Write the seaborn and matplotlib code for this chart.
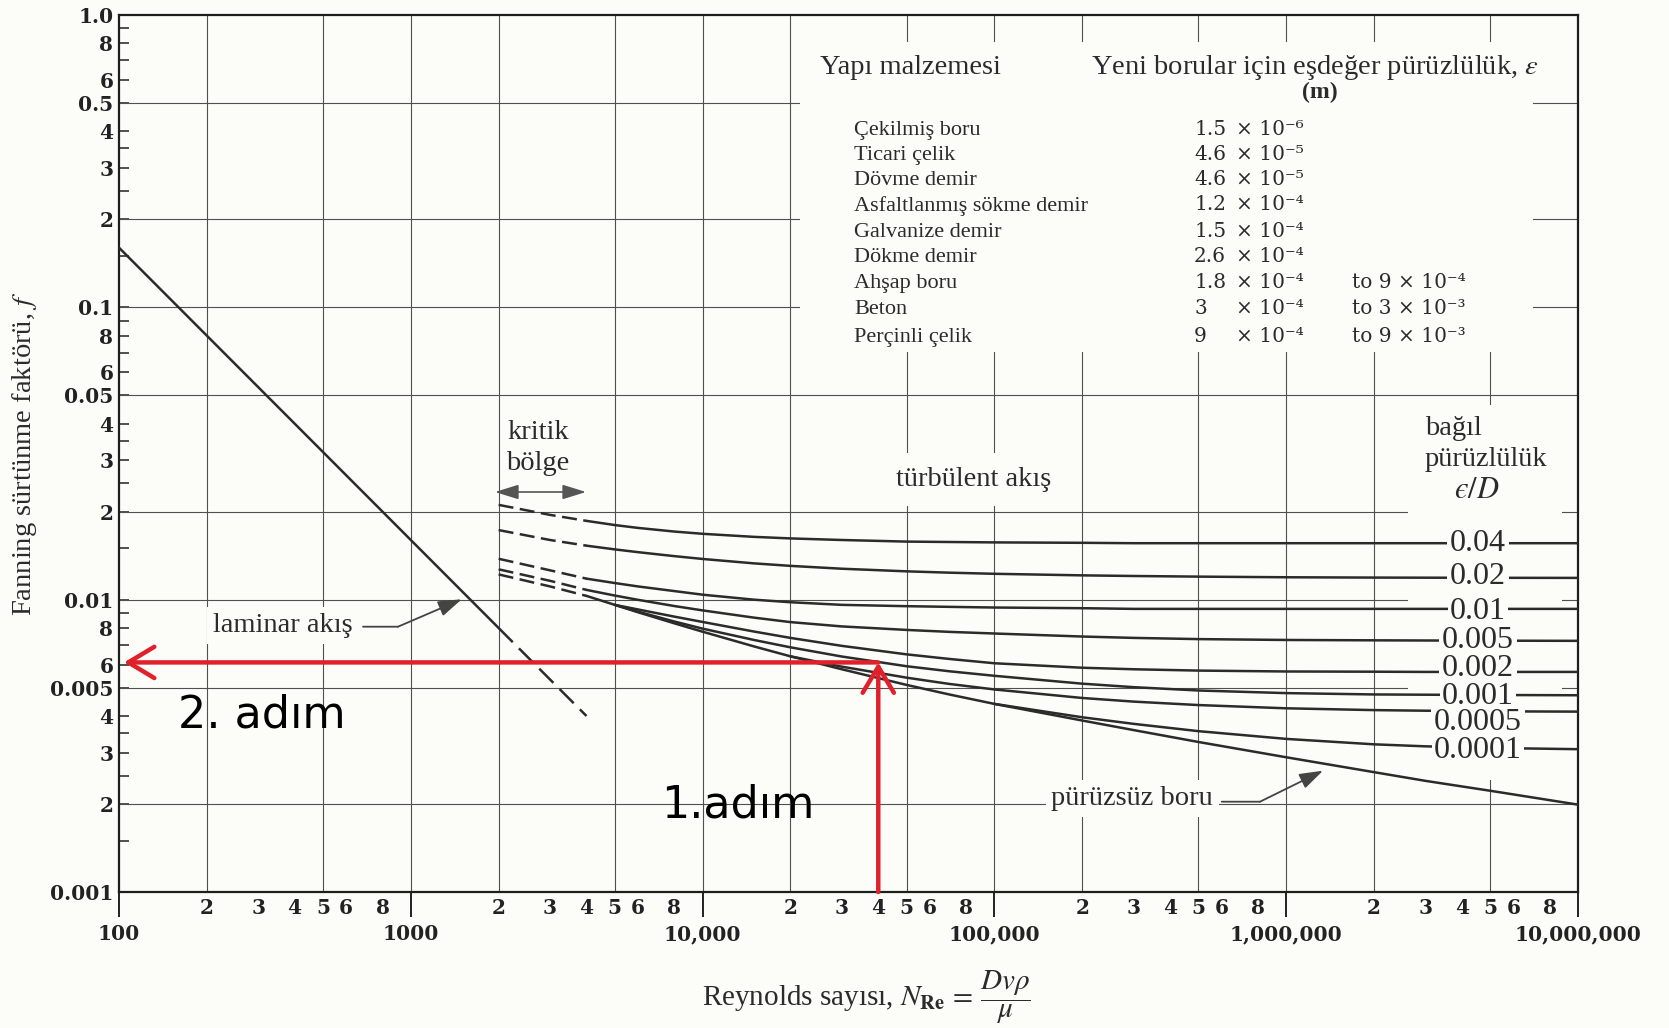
import numpy as np
import pandas as pd
import matplotlib
matplotlib.use("Agg")
import matplotlib.pyplot as plt
import seaborn as sns
from matplotlib.ticker import NullLocator
from matplotlib.patches import Rectangle

# ---------------- values ----------------
reynolds = [2000, 3000, 4000, 5000, 6000, 8000, 1e4, 1.5e4, 2e4, 3e4, 5e4, 7e4,
            1e5, 2e5, 3e5, 5e5, 1e6, 2e6, 3e6, 5e6, 1e7]
N = np.nan
f_eD_0_04   = [0.0211, 0.0195, 0.0186, 0.0180, 0.0176, 0.0171, 0.0168, 0.0164, 0.0162, 0.0160, 0.0158, 0.01575,
               0.0157, 0.01565, 0.0156, 0.0156, 0.0156, 0.0156, 0.0156, 0.0156, 0.0156]
f_eD_0_02   = [0.0173, 0.0160, 0.0153, 0.01486, 0.01454, 0.01409, 0.01378, 0.01331, 0.01305, 0.01276, 0.0125, 0.01237,
               0.01226, 0.01211, 0.01205, 0.01199, 0.01193, 0.0119, 0.01189, 0.01188, 0.01187]
f_eD_0_01   = [0.0138, 0.0126, 0.0118, 0.0114, 0.0111, 0.0107, 0.0104, 0.0100, 0.0098, 0.0096, 0.0095, 0.00945,
               0.0094, 0.00935, 0.0093, 0.0093, 0.0093, 0.0093, 0.0093, 0.0093, 0.0093]
f_eD_0_005  = [0.0127, 0.0116, 0.0108, 0.01033, 0.00999, 0.00951, 0.00919, 0.00868, 0.00838, 0.0081, 0.00788, 0.00776,
               0.00766, 0.00748, 0.0074, 0.00733, 0.00728, 0.00726, 0.00725, 0.00724, 0.00723]
f_eD_0_002  = [N, N, N, 0.0096, 0.00926, 0.00875, 0.00839, 0.00778, 0.0074, 0.00695, 0.0065, 0.00627,
               0.00606, 0.00585, 0.00578, 0.00572, 0.00568, 0.00567, 0.00566, 0.00566, 0.00566]
f_eD_0_001  = [N, N, N, 0.0096, 0.0091, 0.00842, 0.00796, 0.00728, 0.00687, 0.00639, 0.00592, 0.00569,
               0.00549, 0.00516, 0.00502, 0.00489, 0.00479, 0.00474, 0.00473, 0.00472, 0.00471]
f_eD_0_0005 = [N, N, N, N, N, N, N, N, 0.0064, 0.0059, 0.00541, 0.00515,
               0.00493, 0.00461, 0.00448, 0.00436, 0.00425, 0.00419, 0.00417, 0.00415, 0.00414]
f_eD_0_0001 = [N, N, N, N, N, N, N, N, N, N, N, N,
               0.0044, 0.00396, 0.00376, 0.00355, 0.00334, 0.0032, 0.00315, 0.00311, 0.00308]
f_smooth    = [0.0122, 0.0111, 0.0103, 0.0096, 0.00906, 0.0083, 0.00777, 0.00692, 0.0064, 0.00578, 0.00511, 0.00474,
               0.0044, 0.00386, 0.00358, 0.00326, 0.00289, 0.00257, 0.0024, 0.00222, 0.00199]
transition_end = 4000

laminar_Re = [100, 2000]
laminar_f = [0.16, 0.008]
laminar_ext_Re = [2000, 4000]
laminar_ext_f = [0.008, 0.004]

curve_labels = ["0.04", "0.02", "0.01", "0.005", "0.002", "0.001", "0.0005", "0.0001"]
curve_values = [f_eD_0_04, f_eD_0_02, f_eD_0_01, f_eD_0_005, f_eD_0_002,
                f_eD_0_001, f_eD_0_0005, f_eD_0_0001]

materials = ["Çekilmiş boru", "Ticari çelik", "Dövme demir", "Asfaltlanmış sökme demir",
             "Galvanize demir", "Dökme demir", "Ahşap boru", "Beton", "Perçinli çelik"]
eps_low = ["1.5", "4.6", "4.6", "1.2", "1.5", "2.6", "1.8", "3", "9"]
eps_low_pow = ["× 10⁻⁶", "× 10⁻⁵", "× 10⁻⁵", "× 10⁻⁴", "× 10⁻⁴", "× 10⁻⁴", "× 10⁻⁴", "× 10⁻⁴", "× 10⁻⁴"]
eps_high = ["", "", "", "", "", "", "to 9 × 10⁻⁴", "to 3 × 10⁻³", "to 9 × 10⁻³"]

x_major = [1e2, 1e3, 1e4, 1e5, 1e6, 1e7]
x_major_labels = ["100", "1000", "10,000", "100,000", "1,000,000", "10,000,000"]
x_minor_mult = [1.5, 2, 2.5, 3, 3.5, 4, 5, 6, 7, 8, 9]
x_minor_text = ["", "2", "", "3", "", "4", "5", "6", "", "8", ""]
y_decades = [0.001, 0.01, 0.1]
y_decade_text = ["0.001", "0.01", "0.1"]
y_half_text = ["0.005", "0.05", "0.5"]
y_mult = [1, 1.5, 2, 2.5, 3, 3.5, 4, 5, 6, 7, 8, 9]
x_grid = [2e2, 5e2, 1e3, 2e3, 5e3, 1e4, 2e4, 5e4, 1e5, 2e5, 5e5, 1e6, 2e6, 5e6]
y_grid = [0.002, 0.005, 0.01, 0.02, 0.05, 0.1, 0.2, 0.5]

step_Re = 4.0e4
step_f = 0.0061

# ---------------- style ----------------
sns.set_theme(style="white")
serif = ["Liberation Serif", "DejaVu Serif"]
plt.rcParams["font.family"] = serif
plt.rcParams["mathtext.fontset"] = "stix"
bg = "#fcfcf8"
ink = "#2b2b2b"
gridc = "#505050"
red = "#e0202b"

W, H = 1669, 1028
L, R, T, B = 119, 1578, 15, 892
fig = plt.figure(figsize=(W / 100, H / 100), dpi=100, facecolor=bg)
ax = fig.add_axes([L / W, 1 - B / H, (R - L) / W, (B - T) / H])
ax.set_facecolor(bg)
ax.set_xscale("log")
ax.set_yscale("log")
ax.set_xlim(1e2, 1e7)
ax.set_ylim(1e-3, 1.0)


def A(x, y):
    """pixel position in the image -> axes fraction"""
    return ((x - L) / (R - L), (B - y) / (B - T))


for s in ax.spines.values():
    s.set_color("#1e1e1e")
    s.set_linewidth(1.6)

for gx in x_grid:
    ax.axvline(gx, color=gridc, lw=0.8, zorder=0.6)
for gy in y_grid:
    ax.axhline(gy, color=gridc, lw=0.8, zorder=0.6)

# blank areas of the printed chart (table and curve-label column)
ax.add_patch(Rectangle(A(800, 352), (1533 - 800) / (R - L), (352 - 42) / (B - T),
                       transform=ax.transAxes, fc=bg, ec="none", zorder=1))
ax.add_patch(Rectangle(A(1408, 780), (1562 - 1408) / (R - L), (780 - 405) / (B - T),
                       transform=ax.transAxes, fc=bg, ec="none", zorder=1))

# ---------------- curves ----------------
for vals in curve_values + [f_smooth]:
    df = pd.DataFrame({"Re": reynolds, "f": vals}).dropna()
    dash = df[df["Re"] <= transition_end]
    solid = df[df["Re"] >= transition_end]
    if len(dash) > 1:
        sns.lineplot(data=dash, x="Re", y="f", ax=ax, color=ink, lw=1.8,
                     estimator=None, sort=False, zorder=3)
        ax.lines[-1].set_dashes((6, 2.6))
    sns.lineplot(data=solid, x="Re", y="f", ax=ax, color=ink, lw=1.8,
                 estimator=None, sort=False, zorder=3)

sns.lineplot(x=laminar_Re, y=laminar_f, ax=ax, color=ink, lw=1.8, estimator=None, zorder=3)
sns.lineplot(x=laminar_ext_Re, y=laminar_ext_f, ax=ax, color=ink, lw=1.8, estimator=None, zorder=3)
ax.lines[-1].set_dashes((8, 3.5))

# ---------------- ticks ----------------
tick_font = dict(fontfamily="DejaVu Serif", fontweight="bold", fontsize=14.5, color="#222222")
x_minor_pos, x_minor_lab = [], []
for d in x_major[:-1]:
    for m, t in zip(x_minor_mult, x_minor_text):
        x_minor_pos.append(m * d)
        x_minor_lab.append(t)
ax.set_xticks(x_major, labels=x_major_labels, **tick_font)
ax.set_xticks(x_minor_pos, labels=x_minor_lab, minor=True, **tick_font)

y_pos, y_lab = [], []
for d, dt, ht in zip(y_decades, y_decade_text, y_half_text):
    for m in y_mult:
        y_pos.append(m * d)
        if m == 1:
            y_lab.append(dt)
        elif m == 5:
            y_lab.append(ht)
        elif m in (2, 3, 4, 6, 8):
            y_lab.append(str(m))
        else:
            y_lab.append("")
y_pos.append(1.0)
y_lab.append("1.0")
ax.set_yticks(y_pos, labels=y_lab, **tick_font)
ax.yaxis.set_minor_locator(NullLocator())

ax.tick_params(axis="x", which="major", direction="out", length=18, width=1.4, pad=5, colors="#222222")
ax.tick_params(axis="x", which="minor", direction="in", length=6, width=1.1, pad=4, colors="#222222")
ax.tick_params(axis="y", which="major", direction="in", length=7, width=1.1, pad=4, colors="#222222")
ax.tick_params(left=True, bottom=True, top=False, right=False)

# ---------------- axis titles ----------------
ax.set_ylabel("Fanning sürtünme faktörü, $f$", fontsize=20.5, color=ink, va="center")
ax.yaxis.set_label_coords(A(25, 0)[0], 0.5)
ax.set_xlabel(r"Reynolds sayısı, $N_{\mathbf{Re}}\,=\,\dfrac{Dv\rho}{\mu}$", fontsize=21, color=ink, va="center")
ax.xaxis.set_label_coords(A(866, 0)[0], A(0, 997)[1])

# ---------------- table ----------------
def T_(x, y, s, size, **kw):
    ax.text(*A(x, y), s, transform=ax.transAxes, fontsize=size, color=ink, zorder=5, **kw)

T_(820, 74, "Yapı malzemesi", 20.5, ha="left", va="baseline")
T_(1091, 74, "Yeni borular için eşdeğer pürüzlülük, $\\varepsilon$", 20.5, ha="left", va="baseline")
T_(1320, 92, "(m)", 17, ha="center", va="center", fontweight="bold")
row_base = [135, 160, 185, 210.5, 236.5, 262.5, 288, 313.5, 341.5]
for yb, mat, lo, pw, hi in zip(row_base, materials, eps_low, eps_low_pow, eps_high):
    T_(854, yb, mat, 16, ha="left", va="baseline")
    T_(1194, yb, lo, 14.5, ha="left", va="baseline", fontfamily="DejaVu Serif")
    T_(1236, yb, pw, 14.5, ha="left", va="baseline", fontfamily="DejaVu Serif")
    if hi:
        T_(1352, yb, hi, 14.5, ha="left", va="baseline", fontfamily="DejaVu Serif")

# ---------------- labels on the chart ----------------
label_y = [543, 577, 611, 641, 668, 696, 722, 751]
for lab, ly in zip(curve_labels, label_y):
    T_(1478, ly, lab, 23, ha="center", va="center",
       bbox=dict(boxstyle="square,pad=0.08", fc=bg, ec="none"))

box = dict(boxstyle="square,pad=0.2", fc=bg, ec="none")
T_(538, 439, "kritik", 20.5, ha="center", va="baseline", bbox=box)
T_(538, 470, "bölge", 20.5, ha="center", va="baseline", bbox=box)
ax.annotate("", xy=A(586, 492), xytext=A(495, 492), xycoords="axes fraction",
            arrowprops=dict(arrowstyle="<|-|>,head_length=0.9,head_width=0.28", color="#555555",
                            lw=1.2, mutation_scale=16, shrinkA=0, shrinkB=0), zorder=5)
T_(896, 486, "türbülent akış", 20.5, ha="left", va="baseline",
   bbox=dict(boxstyle="square,pad=0.5", fc=bg, ec="none"))
T_(1425, 435, "bağıl", 20.5, ha="left", va="baseline")
T_(1425, 466, "pürüzlülük", 20.5, ha="left", va="baseline")
T_(1477, 498, "$\u03f5/D$", 22, ha="center", va="baseline")

T_(213, 632, "laminar akış", 20.5, ha="left", va="baseline", bbox=box)
ax.annotate("", xy=A(398, 626.7), xytext=A(363, 626.7), xycoords="axes fraction",
            arrowprops=dict(arrowstyle="-", color="#444444", lw=1.3, shrinkA=0, shrinkB=0), zorder=5)
ax.annotate("", xy=A(461.7, 599.3), xytext=A(398, 626.7), xycoords="axes fraction",
            arrowprops=dict(arrowstyle="-|>,head_length=0.9,head_width=0.3", color="#444444",
                            lw=1.3, mutation_scale=16, shrinkA=0, shrinkB=0), zorder=5)

T_(1213, 805, "pürüzsüz boru", 20.5, ha="right", va="baseline", bbox=box)
ax.annotate("", xy=A(1260, 801.7), xytext=A(1221.7, 801.7), xycoords="axes fraction",
            arrowprops=dict(arrowstyle="-", color="#444444", lw=1.3, shrinkA=0, shrinkB=0), zorder=5)
ax.annotate("", xy=A(1323, 770.7), xytext=A(1260, 801.7), xycoords="axes fraction",
            arrowprops=dict(arrowstyle="-|>,head_length=0.9,head_width=0.3", color="#444444",
                            lw=1.3, mutation_scale=16, shrinkA=0, shrinkB=0), zorder=5)

# ---------------- red reading steps ----------------
red_arrow = dict(arrowstyle="->,head_length=0.75,head_width=0.45", color=red, lw=3.2,
                 mutation_scale=25, shrinkA=0, shrinkB=0)
ax.annotate("", xy=(step_Re, step_f), xytext=(step_Re, 1e-3), arrowprops=red_arrow, zorder=7)
ax.annotate("", xy=(104, step_f), xytext=(step_Re, step_f), arrowprops=red_arrow, zorder=7)
ax.text(*A(262, 728), "2. adım", transform=ax.transAxes, fontsize=32, fontfamily="DejaVu Sans",
        color="black", ha="center", va="baseline", zorder=8)
ax.text(*A(738, 818), "1.adım", transform=ax.transAxes, fontsize=32, fontfamily="DejaVu Sans",
        color="black", ha="center", va="baseline", zorder=8)

fig.savefig("out.png", dpi=100, facecolor=bg)
